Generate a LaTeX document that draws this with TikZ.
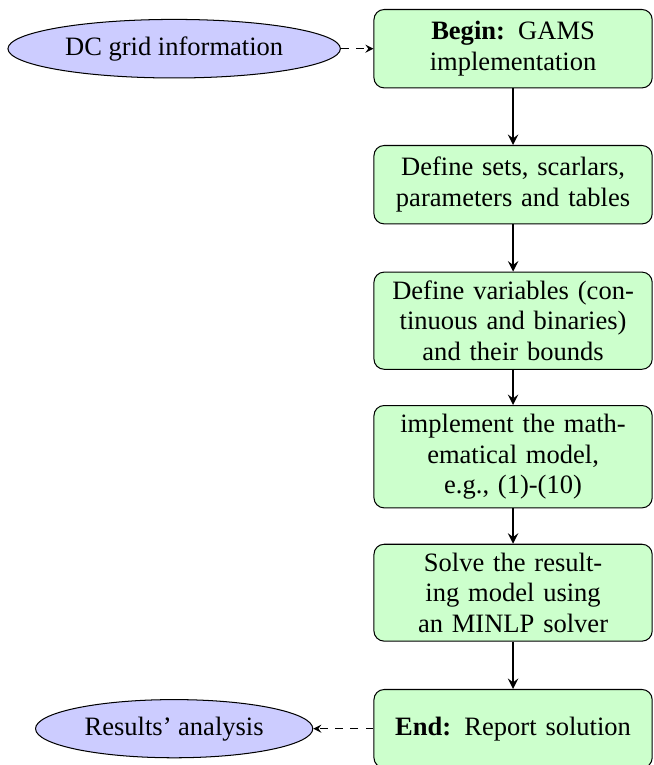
\documentclass[tikz,border=0pt]{standalone}
\usepackage{fontspec}
\setmainfont{Liberation Serif}
\usetikzlibrary{arrows,shapes.geometric}
\tikzset{
    task/.style={rectangle, rounded corners, draw, fill=green!20, text width=3.6cm, align=center, minimum height=1.08cm},
    info/.style={ellipse, draw, fill=blue!20},
    flow/.style={->, >=stealth, thick},
    link/.style={->, >=stealth, dashed}
}

\begin{document}
\begin{tikzpicture}[x=1cm,y=1.874cm,font=\fontsize{10.4}{12}\selectfont]
\useasboundingbox (-7.07,0.358) rectangle (1.93,-5.267);
\node[task] (begin) at (0, 0) {\textbf{Begin:} GAMS\\implementation};
\node[task] (sets)  at (0,-1) {Define sets, scarlars,\\parameters and tables};
\node[task] (vars)  at (0,-2) {Define variables (con-\\tinuous and binaries)\\and their bounds};
\node[task] (model) at (0,-3) {implement the math-\\ematical model,\\e.g., (1)-(10)};
\node[task] (solve) at (0,-4) {Solve the result-\\ing model using\\an MINLP solver};
\node[task] (end)   at (0,-5) {\textbf{End:} Report solution};
\node[info] (grid)    at (-4.67, 0) {DC grid information};
\node[info] (results) at (-4.67,-5) {Results' analysis};
\draw[flow] (begin) -- (sets);
\draw[flow] (sets) -- (vars);
\draw[flow] (vars) -- (model);
\draw[flow] (model) -- (solve);
\draw[flow] (solve) -- (end);
\draw[link] (grid) -- (begin);
\draw[link] (end) -- (results);
\end{tikzpicture}
\end{document}
